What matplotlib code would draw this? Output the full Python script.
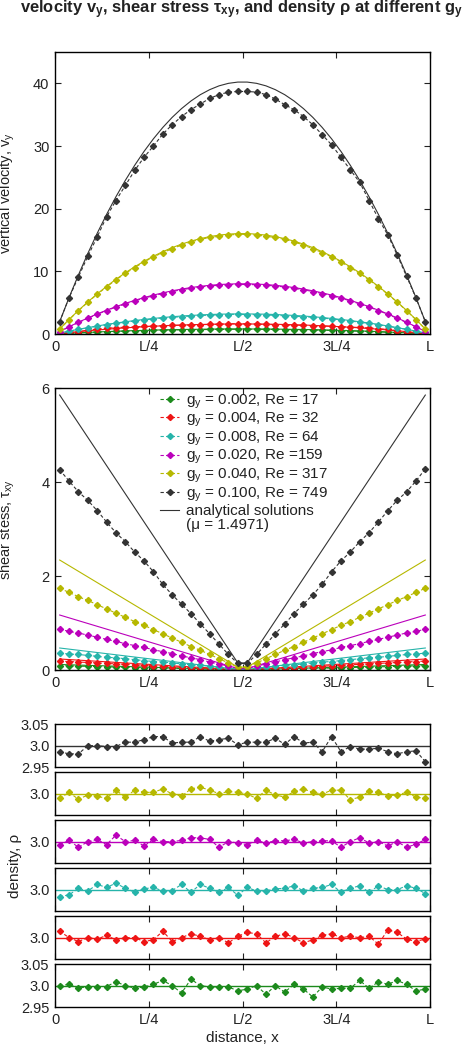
import numpy as np
import matplotlib
matplotlib.use("Agg")
import matplotlib.pyplot as plt
from matplotlib.lines import Line2D

plt.rcParams.update({
    "font.family": ["Liberation Sans", "DejaVu Sans"],
    "font.size": 10,
    "mathtext.fontset": "custom",
    "mathtext.rm": "Liberation Sans",
    "mathtext.it": "Liberation Sans",
    "mathtext.bf": "Liberation Sans:bold",
    "text.color": "#222222",
    "axes.labelcolor": "#222222",
    "xtick.color": "#222222",
    "ytick.color": "#222222",
    "axes.linewidth": 1.0,
})

# ── data ─────────────────────────────────────────────────────────────────────
L = 40
x = np.arange(L) + 0.5          # cell centres
labels = ["g$_y$ = 0.002, Re = 17", "g$_y$ = 0.004, Re = 32",
          "g$_y$ = 0.008, Re = 64", "g$_y$ = 0.020, Re =159",
          "g$_y$ = 0.040, Re = 317", "g$_y$ = 0.100, Re = 749"]
colors = ["#1c8a1c", "#ee1515", "#26b4aa", "#bb00bb", "#b6b800", "#333333"]

# velocity, simulation
vel_g002 = [0.02, 0.10, 0.16, 0.24, 0.30, 0.36, 0.42, 0.46, 0.50, 0.54, 0.58, 0.62, 0.64, 0.66, 0.70, 0.70, 0.72, 0.74, 0.76, 0.76,
            0.76, 0.74, 0.74, 0.72, 0.70, 0.68, 0.66, 0.62, 0.60, 0.56, 0.52, 0.48, 0.44, 0.40, 0.34, 0.28, 0.22, 0.16, 0.10, 0.02]
vel_g004 = [0.06, 0.22, 0.38, 0.62, 0.80, 0.92, 1.02, 1.08, 1.14, 1.20, 1.26, 1.32, 1.38, 1.40, 1.44, 1.50, 1.52, 1.56, 1.62, 1.66,
            1.60, 1.58, 1.52, 1.48, 1.44, 1.40, 1.38, 1.32, 1.28, 1.22, 1.16, 1.10, 1.04, 0.96, 0.86, 0.72, 0.54, 0.34, 0.16, 0.04]
vel_g008 = [0.10, 0.46, 0.72, 1.00, 1.22, 1.50, 1.68, 1.90, 2.06, 2.26, 2.40, 2.56, 2.64, 2.78, 2.86, 2.96, 3.00, 3.06, 3.10, 3.18,
            3.06, 3.10, 3.02, 2.98, 2.90, 2.84, 2.74, 2.66, 2.52, 2.42, 2.24, 2.08, 1.88, 1.70, 1.48, 1.24, 0.98, 0.74, 0.44, 0.10]
vel_g020 = [0.39, 1.13, 1.84, 2.50, 3.14, 3.74, 4.30, 4.80, 5.28, 5.72, 6.10, 6.46, 6.78, 7.06, 7.30, 7.50, 7.66, 7.78, 7.86, 7.90,
            7.90, 7.86, 7.78, 7.66, 7.50, 7.30, 7.06, 6.78, 6.46, 6.10, 5.72, 5.28, 4.80, 4.30, 3.74, 3.14, 2.50, 1.84, 1.13, 0.39]
vel_g040 = [0.78, 2.28, 3.72, 5.06, 6.34, 7.52, 8.64, 9.66, 10.6, 11.5, 12.3, 13.0, 13.6, 14.2, 14.7, 15.1, 15.4, 15.6, 15.8, 15.9,
            15.9, 15.8, 15.6, 15.4, 15.1, 14.7, 14.2, 13.6, 13.0, 12.3, 11.5, 10.6, 9.66, 8.64, 7.52, 6.34, 5.06, 3.72, 2.28, 0.78]
vel_g100 = [1.96, 5.78, 9.12, 12.4, 15.5, 18.7, 21.3, 23.7, 26.1, 28.2, 30.0, 31.9, 33.4, 34.7, 35.8, 36.7, 37.6, 38.2, 38.6, 38.7,
            38.7, 38.6, 38.2, 37.5, 36.6, 35.8, 34.7, 33.4, 31.8, 30.2, 28.2, 26.2, 24.2, 21.3, 18.4, 15.8, 12.6, 9.2, 5.78, 1.96]

# velocity, analytical
vel_a002 = [0.04, 0.12, 0.19, 0.26, 0.32, 0.38, 0.44, 0.49, 0.54, 0.58, 0.62, 0.66, 0.69, 0.72, 0.74, 0.76, 0.78, 0.79, 0.80, 0.80,
            0.80, 0.80, 0.79, 0.78, 0.76, 0.74, 0.72, 0.69, 0.66, 0.62, 0.58, 0.54, 0.49, 0.44, 0.38, 0.32, 0.26, 0.19, 0.12, 0.04]
vel_a004 = [0.08, 0.23, 0.38, 0.51, 0.64, 0.76, 0.87, 0.98, 1.07, 1.16, 1.24, 1.31, 1.38, 1.43, 1.48, 1.52, 1.55, 1.58, 1.59, 1.60,
            1.60, 1.59, 1.58, 1.55, 1.52, 1.48, 1.43, 1.38, 1.31, 1.24, 1.16, 1.07, 0.98, 0.87, 0.76, 0.64, 0.51, 0.38, 0.23, 0.08]
vel_a008 = [0.16, 0.46, 0.75, 1.02, 1.28, 1.52, 1.75, 1.95, 2.15, 2.32, 2.48, 2.63, 2.76, 2.87, 2.96, 3.04, 3.11, 3.16, 3.19, 3.20,
            3.20, 3.19, 3.16, 3.11, 3.04, 2.96, 2.87, 2.76, 2.63, 2.48, 2.32, 2.15, 1.95, 1.75, 1.52, 1.28, 1.02, 0.75, 0.46, 0.16]
vel_a020 = [0.40, 1.16, 1.88, 2.56, 3.20, 3.80, 4.36, 4.88, 5.37, 5.81, 6.21, 6.57, 6.89, 7.17, 7.41, 7.61, 7.77, 7.89, 7.97, 8.01,
            8.01, 7.97, 7.89, 7.77, 7.61, 7.41, 7.17, 6.89, 6.57, 6.21, 5.81, 5.37, 4.88, 4.36, 3.80, 3.20, 2.56, 1.88, 1.16, 0.40]
vel_a040 = [0.79, 2.32, 3.76, 5.12, 6.40, 7.60, 8.73, 9.77, 10.73, 11.61, 12.41, 13.14, 13.78, 14.34, 14.82, 15.22, 15.54, 15.78, 15.94, 16.02,
            16.02, 15.94, 15.78, 15.54, 15.22, 14.82, 14.34, 13.78, 13.14, 12.41, 11.61, 10.73, 9.77, 8.73, 7.60, 6.40, 5.12, 3.76, 2.32, 0.79]
vel_a100 = [1.98, 5.81, 9.43, 12.85, 16.07, 19.08, 21.90, 24.51, 26.92, 29.14, 31.15, 32.96, 34.57, 35.97, 37.18, 38.19, 38.99, 39.60, 40.00, 40.20,
            40.20, 40.00, 39.60, 38.99, 38.19, 37.18, 35.97, 34.57, 32.96, 31.15, 29.14, 26.92, 24.51, 21.90, 19.08, 16.07, 12.85, 9.43, 5.81, 1.98]

# shear stress, simulation
tau_g002 = [0.09, 0.09, 0.08, 0.08, 0.07, 0.07, 0.06, 0.06, 0.05, 0.05, 0.04, 0.04, 0.04, 0.03, 0.03, 0.02, 0.02, 0.01, 0.01, 0.00,
            0.00, 0.01, 0.01, 0.02, 0.02, 0.03, 0.03, 0.04, 0.04, 0.04, 0.05, 0.05, 0.06, 0.06, 0.07, 0.07, 0.08, 0.08, 0.09, 0.09]
tau_g004 = [0.19, 0.18, 0.17, 0.16, 0.15, 0.14, 0.13, 0.12, 0.11, 0.10, 0.09, 0.08, 0.07, 0.06, 0.05, 0.05, 0.04, 0.03, 0.02, 0.01,
            0.01, 0.02, 0.03, 0.04, 0.05, 0.05, 0.06, 0.07, 0.08, 0.09, 0.10, 0.11, 0.12, 0.13, 0.14, 0.15, 0.16, 0.17, 0.18, 0.19]
tau_g008 = [0.36, 0.34, 0.33, 0.31, 0.29, 0.27, 0.26, 0.24, 0.22, 0.20, 0.18, 0.17, 0.15, 0.13, 0.11, 0.10, 0.08, 0.06, 0.04, 0.02,
            0.02, 0.04, 0.06, 0.08, 0.10, 0.11, 0.13, 0.15, 0.17, 0.18, 0.20, 0.22, 0.24, 0.26, 0.27, 0.29, 0.31, 0.33, 0.34, 0.36]
tau_g020 = [0.87, 0.82, 0.79, 0.74, 0.70, 0.65, 0.61, 0.56, 0.52, 0.48, 0.43, 0.39, 0.35, 0.30, 0.26, 0.22, 0.17, 0.13, 0.08, 0.04,
            0.04, 0.08, 0.13, 0.17, 0.22, 0.26, 0.30, 0.35, 0.39, 0.43, 0.48, 0.52, 0.56, 0.61, 0.65, 0.70, 0.74, 0.79, 0.82, 0.87]
tau_g040 = [1.74, 1.65, 1.56, 1.48, 1.39, 1.30, 1.21, 1.12, 1.03, 0.95, 0.86, 0.77, 0.68, 0.59, 0.50, 0.42, 0.33, 0.24, 0.15, 0.06,
            0.06, 0.15, 0.24, 0.33, 0.42, 0.50, 0.59, 0.68, 0.77, 0.86, 0.95, 1.03, 1.12, 1.21, 1.30, 1.39, 1.48, 1.56, 1.65, 1.74]
tau_g100 = [4.26, 4.02, 3.79, 3.61, 3.39, 3.15, 2.92, 2.73, 2.51, 2.32, 2.09, 1.82, 1.60, 1.40, 1.20, 0.98, 0.77, 0.55, 0.33, 0.14,
            0.14, 0.33, 0.55, 0.77, 0.98, 1.20, 1.40, 1.60, 1.82, 2.09, 2.32, 2.51, 2.73, 2.92, 3.15, 3.39, 3.61, 3.79, 4.02, 4.28]

# shear stress, analytical (straight V, read at the corner points)
tau_x = [0.5, 19.5, 20.5, 39.5]
tau_a002 = [0.117, 0.003, 0.003, 0.117]
tau_a004 = [0.234, 0.006, 0.006, 0.234]
tau_a008 = [0.468, 0.012, 0.012, 0.468]
tau_a020 = [1.17, 0.03, 0.03, 1.17]
tau_a040 = [2.34, 0.06, 0.06, 2.34]
tau_a100 = [5.85, 0.15, 0.15, 5.85]

# density
rho_g002 = [3.000, 3.003, 2.994, 2.998, 2.998, 2.998, 3.009, 3.000, 2.994, 2.997, 3.003, 3.012, 3.000, 2.983, 3.015, 3.000, 2.997, 2.997, 2.997, 2.988,
            2.992, 3.000, 2.980, 3.000, 2.985, 3.003, 2.992, 2.974, 2.997, 2.992, 2.994, 2.994, 3.012, 2.994, 3.009, 3.003, 3.012, 3.003, 2.988, 2.992]
rho_g004 = [3.015, 3.000, 2.991, 3.000, 2.997, 3.005, 2.995, 3.000, 3.000, 2.991, 2.995, 3.015, 2.991, 3.000, 3.009, 3.003, 2.995, 3.000, 2.988, 3.003,
            3.012, 3.009, 2.988, 3.003, 3.009, 3.000, 2.988, 2.995, 3.005, 3.009, 3.000, 3.003, 3.000, 3.003, 2.985, 3.018, 3.012, 2.997, 2.991, 2.997]
rho_g008 = [2.984, 2.988, 3.003, 2.997, 3.012, 3.005, 3.015, 3.003, 2.994, 3.002, 3.005, 2.997, 2.998, 3.012, 2.994, 3.012, 3.003, 2.994, 3.005, 2.987,
            3.005, 2.997, 2.997, 3.002, 3.003, 3.009, 2.997, 3.003, 3.005, 3.012, 2.994, 3.003, 3.009, 2.994, 3.009, 3.000, 3.000, 3.009, 3.003, 2.991]
rho_g020 = [2.993, 3.003, 2.987, 3.000, 3.005, 2.993, 3.015, 3.000, 3.003, 2.990, 3.005, 3.000, 3.000, 3.003, 3.009, 3.009, 3.005, 2.987, 3.000, 2.997,
            2.993, 3.003, 2.997, 3.002, 3.002, 3.005, 2.997, 3.000, 3.002, 3.002, 2.987, 3.000, 3.009, 2.997, 3.000, 2.990, 3.000, 2.987, 2.994, 3.005]
rho_g040 = [2.989, 3.003, 2.987, 2.997, 2.994, 2.989, 3.008, 2.992, 3.008, 3.003, 3.003, 3.011, 2.999, 2.994, 3.011, 3.015, 3.008, 3.000, 3.005, 3.003,
            2.999, 2.989, 3.008, 2.997, 2.992, 3.005, 3.011, 3.003, 2.999, 3.008, 3.008, 2.986, 2.992, 3.005, 3.003, 2.995, 2.997, 3.003, 2.992, 2.989]
rho_g100 = [2.986, 2.981, 2.981, 3.000, 3.000, 2.998, 2.998, 3.008, 3.008, 3.014, 3.021, 3.021, 3.006, 3.008, 3.008, 3.021, 3.010, 3.014, 3.017, 3.002,
            3.008, 3.008, 3.008, 3.017, 3.003, 3.021, 3.006, 3.008, 2.986, 3.021, 2.986, 2.998, 2.992, 2.992, 2.994, 2.986, 2.981, 2.986, 2.988, 2.963]

vel_sim = [vel_g002, vel_g004, vel_g008, vel_g020, vel_g040, vel_g100]
vel_ana = [vel_a002, vel_a004, vel_a008, vel_a020, vel_a040, vel_a100]
tau_sim = [tau_g002, tau_g004, tau_g008, tau_g020, tau_g040, tau_g100]
tau_ana = [tau_a002, tau_a004, tau_a008, tau_a020, tau_a040, tau_a100]
rho_sim = [rho_g002, rho_g004, rho_g008, rho_g020, rho_g040, rho_g100]

xticks = [0, 10, 20, 30, 40]
xticklabels = ["0", "L/4", "L/2", "3L/4", "L"]

# ── figure ───────────────────────────────────────────────────────────────────
W, H = 462, 1048
fig = plt.figure(figsize=(W / 100, H / 100), dpi=100)


def px_axes(left, top, right, bottom):
    return fig.add_axes([left / W, 1 - bottom / H, (right - left) / W, (bottom - top) / H])


def style(ax, xlabels=True):
    ax.set_xlim(0, L)
    ax.set_xticks(xticks)
    ax.set_xticklabels(xticklabels if xlabels else [])
    ax.tick_params(direction="in", top=True, right=True, length=4, width=0.8,
                   labelsize=10.5, pad=4)


sim_kw = dict(linestyle=(0, (3, 2)), linewidth=0.8, marker="D", markersize=3.1)
ana_kw = dict(linestyle="-", linewidth=0.8)

# velocity
ax1 = px_axes(55, 52, 430, 334)
for v, va, c in zip(vel_sim, vel_ana, colors):
    ax1.plot(x, va, color=c, **ana_kw)
    ax1.plot(x, v, color=c, **sim_kw)
ax1.set_ylim(0, 45)
ax1.set_yticks([0, 10, 20, 30, 40])
style(ax1)
ax1.set_ylabel("vertical velocity, v$_y$", fontsize=10.5)
ax1.yaxis.set_label_coords(-0.1, 0.5)

# shear stress
ax2 = px_axes(55, 388, 430, 670)
for t, ta, c in zip(tau_sim, tau_ana, colors):
    ax2.plot(tau_x, ta, color=c, **ana_kw)
    ax2.plot(x, t, color=c, **sim_kw)
ax2.set_ylim(0, 6)
ax2.set_yticks([0, 2, 4, 6])
style(ax2)
ax2.set_ylabel("shear stess, τ$_{xy}$", fontsize=10.5)
ax2.yaxis.set_label_coords(-0.1, 0.5)

handles = [Line2D([], [], color=c, **sim_kw) for c in colors]
handles.append(Line2D([], [], color="#333333", **ana_kw))
handles.append(Line2D([], [], linestyle="none"))
ax2.legend(handles, labels + ["analytical solutions", "(μ = 1.4971)"],
           loc="upper left", bbox_to_anchor=(0.28, 0.985), frameon=False,
           fontsize=11, labelspacing=0.02, handlelength=1.25, handletextpad=0.45,
           borderaxespad=0.0, borderpad=0.0)

# density stack, black on top
top0, h, gap = 724, 43.3, 4.7
for k, i in enumerate(range(5, -1, -1)):
    t = top0 + k * (h + gap)
    ax = px_axes(55, t, 430, t + h)
    ax.axhline(3.0, color=colors[i], linewidth=1.0)
    ax.plot(x, rho_sim[i], color=colors[i], **sim_kw)
    ax.set_ylim(2.95, 3.05)
    ax.set_yticks([2.95, 3.0, 3.05])
    if k in (0, 5):
        ax.set_yticklabels(["2.95", "3.0", "3.05"])
    else:
        ax.set_yticklabels(["", "3.0", ""])
    style(ax, xlabels=(k == 5))
    ax.tick_params(axis="y", length=0)

fig.text(15 / W, 1 - 866 / H, "density, ρ", rotation=90, fontsize=11,
         ha="center", va="center")
fig.text(242 / W, 1 - 1038 / H, "distance, x", fontsize=11, ha="center", va="center")

fig.text(20 / W, 1 - 10 / H,
         r"velocity v$_\mathbf{y}$, shear stress τ$_\mathbf{xy}$, and density ρ at different g$_\mathbf{y}$",
         fontsize=11.9, fontweight="bold", ha="left", va="center")

fig.savefig("out.png", dpi=100)
